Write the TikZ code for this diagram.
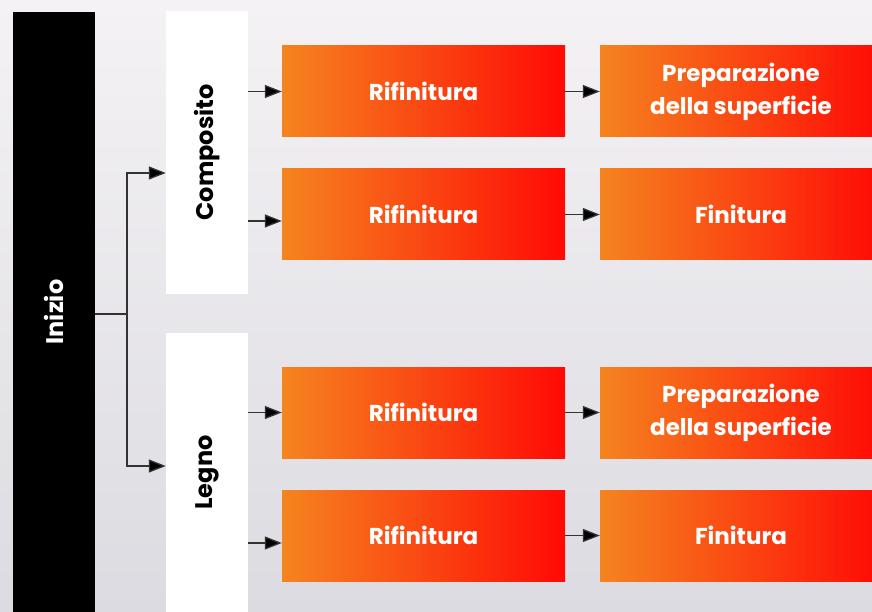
\documentclass[tikz,border=0pt]{standalone}
\usepackage{fontspec}
\setmainfont{Poppins}
\usetikzlibrary{arrows.meta}
\definecolor{bgtop}{HTML}{F4F2F4}
\definecolor{bgbot}{HTML}{DCDBE1}
\definecolor{stepor}{HTML}{F5841F}
\definecolor{stepred}{HTML}{FF0A05}
\tikzset{
	startbox/.style={fill=black, text=white, rotate=90, font=\bfseries\fontsize{24}{28}\selectfont},
	matbox/.style={fill=white, text=black, rotate=90, font=\bfseries\fontsize{24}{28}\selectfont},
	stepbox/.style={shading=axis, left color=stepor, right color=stepred, text=white, minimum height=91pt, align=center, font=\bfseries\fontsize{23}{33}\selectfont},
	link/.style={line width=1.3pt, black!80, -{Triangle[length=17pt,width=13pt,fill=black]}}
}

\begin{document}
\begin{tikzpicture}[x=1pt, y=-1pt]
			%%%%% START %%%%%
			\useasboundingbox (0, 0) rectangle (872, 612);
			\fill[top color=bgtop, bottom color=bgbot] (0, 0) rectangle (872, 612);
			
			\node[startbox, minimum width=600pt, minimum height=82pt] (inizio) at (54, 312) {Inizio};
			
			\node[matbox, minimum width=283pt, minimum height=82pt] (composito) at (207, 152.5) {Composito};
			\node[matbox, minimum width=279pt, minimum height=82pt] (legno) at (207, 472.5) {Legno};
			
			\node[stepbox, minimum width=283pt] (rc1) at (423.5, 91.5) {Rifinitura};
			\node[stepbox, minimum width=283pt] (rc2) at (423.5, 214.5) {Rifinitura};
			\node[stepbox, minimum width=283pt] (rl1) at (423.5, 412.5) {Rifinitura};
			\node[stepbox, minimum width=283pt] (rl2) at (423.5, 535.5) {Rifinitura};
			
			% second column runs past the right edge
			\node[stepbox, minimum width=282pt] (pc) at (741, 91.5) {Preparazione\\della superficie};
			\node[stepbox, minimum width=282pt] (fc) at (741, 214.5) {Finitura};
			\node[stepbox, minimum width=282pt] (pl) at (741, 412.5) {Preparazione\\della superficie};
			\node[stepbox, minimum width=282pt] (fl) at (741, 535.5) {Finitura};
			
			\coordinate (fork) at (127, 314);
			\draw[line width=1.3pt, black!80] ([yshift=-2pt]inizio.south) -- (fork);
			\draw[link] (fork) |- ([yshift=-20.5pt]composito.north);
			\draw[link] (fork) |- ([yshift=6.5pt]legno.north);
			
			\draw[link] (composito.south |- rc1.west) -- (rc1.west);
			\draw[link] ([yshift=-6.5pt]composito.south |- rc2.west) -- ([yshift=-6.5pt]rc2.west);
			\draw[link] (legno.south |- rl1.west) -- (rl1.west);
			\draw[link] ([yshift=-7.5pt]legno.south |- rl2.west) -- ([yshift=-7.5pt]rl2.west);
			
			\draw[link] (rc1) -- (pc);
			\draw[link] (rc2) -- (fc);
			\draw[link] (rl1) -- (pl);
			\draw[link] (rl2) -- (fl);
			%%%%% END %%%%%
\end{tikzpicture}
\end{document}
